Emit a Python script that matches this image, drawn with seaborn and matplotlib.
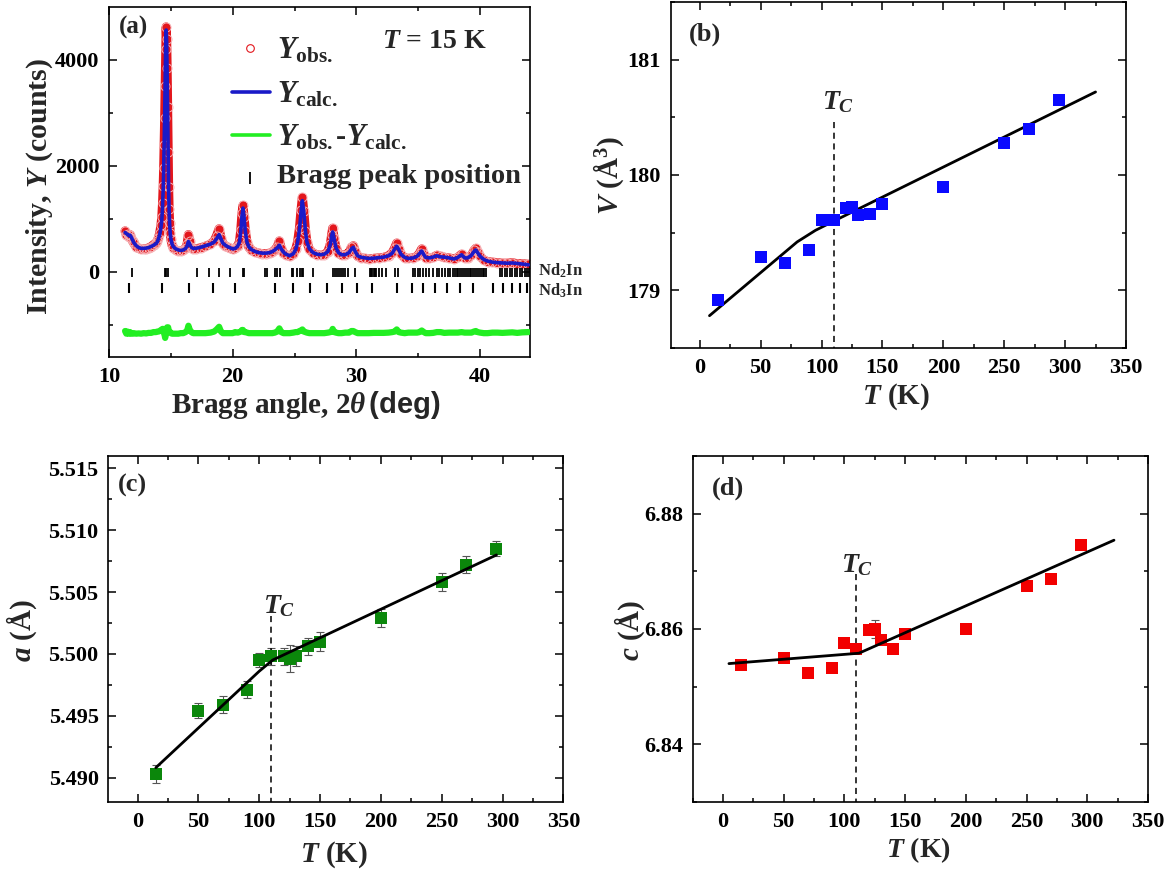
import numpy as np
import matplotlib
matplotlib.use("Agg")
import matplotlib.pyplot as plt
import seaborn as sns
from matplotlib.ticker import MultipleLocator, FormatStrFormatter

# ---------------- data: panel (a) powder pattern ----------------
two_theta = [11.3, 11.4, 11.5, 11.6, 11.7, 11.8, 11.9, 12.0, 12.2, 12.4, 12.6, 12.8, 13.0, 13.2, 13.4,
             13.6, 13.8, 13.9, 14.0, 14.1, 14.2, 14.27, 14.33, 14.38, 14.42, 14.46, 14.5, 14.54, 14.58,
             14.62, 14.66, 14.7, 14.74, 14.78, 14.82, 14.86, 14.9, 14.95, 15.0, 15.1, 15.2, 15.4, 15.6,
             15.8, 16.0, 16.2, 16.32, 16.42, 16.52, 16.65, 16.8, 17.0, 17.4, 17.8, 18.2, 18.5, 18.7,
             18.9, 19.05, 19.2, 19.4, 19.6, 19.8, 20.0, 20.2, 20.4, 20.55, 20.65, 20.75, 20.83, 20.92,
             21.02, 21.15, 21.3, 21.5, 21.8, 22.1, 22.4, 22.7, 23.0, 23.2, 23.4, 23.6, 23.77, 23.92,
             24.1, 24.3, 24.6, 24.9, 25.1, 25.25, 25.4, 25.52, 25.63, 25.75, 25.88, 26.0, 26.2, 26.5,
             26.8, 27.1, 27.4, 27.7, 27.9, 28.0, 28.08, 28.2, 28.35, 28.55, 28.8, 29.1, 29.4, 29.6,
             29.75, 29.9, 30.1, 30.4, 30.7, 31.0, 31.4, 31.8, 32.2, 32.6, 32.9, 33.1, 33.26, 33.42,
             33.6, 33.9, 34.2, 34.6, 34.9, 35.1, 35.28, 35.45, 35.6, 35.9, 36.2, 36.5, 36.8, 37.1,
             37.5, 37.9, 38.2, 38.5, 38.75, 39.0, 39.3, 39.5, 39.65, 39.8, 40.0, 40.3, 40.6, 41.0,
             41.4, 41.8, 42.2, 42.6, 43.0, 43.4, 43.9]
y_calc = [740, 720, 700, 680, 690, 650, 600, 550, 490, 455, 440, 440, 445, 455, 475,
          500, 530, 560, 620, 700, 830, 980, 1230, 1550, 1900, 2420, 2950, 3600, 4250,
          4560, 4350, 3750, 3000, 2150, 1550, 1150, 900, 720, 620, 520, 470, 430, 410,
          400, 410, 440, 490, 570, 520, 460, 440, 440, 460, 490, 520, 560, 620,
          700, 620, 540, 500, 470, 450, 430, 440, 480, 560, 760, 1050, 1200, 1020,
          760, 560, 470, 420, 380, 360, 350, 350, 360, 380, 410, 450, 500, 430,
          370, 330, 300, 340, 420, 560, 800, 1120, 1340, 1120, 760, 560, 430, 360,
          330, 320, 330, 380, 520, 680, 750, 620, 450, 360, 320, 320, 360, 430,
          460, 380, 300, 270, 260, 250, 255, 265, 275, 300, 350, 430, 480, 420,
          330, 270, 250, 260, 290, 340, 390, 320, 270, 260, 275, 300, 280, 275,
          260, 240, 270, 320, 260, 260, 310, 380, 410, 360, 290, 230, 200, 180,
          170, 165, 160, 165, 155, 145, 130]
y_obs = [770, 700, 720, 660, 700, 630, 580, 540, 470, 440, 420, 430, 430, 450, 470,
         510, 540, 580, 640, 730, 880, 1040, 1300, 1620, 1950, 2400, 2900, 3500, 4200,
         4620, 4400, 3850, 3100, 2250, 1600, 1180, 920, 730, 610, 500, 450, 410, 390,
         390, 400, 450, 530, 700, 580, 470, 430, 430, 450, 480, 520, 580, 680,
         810, 640, 530, 490, 460, 440, 420, 450, 480, 570, 780, 1100, 1250, 1030,
         770, 560, 460, 410, 370, 350, 340, 340, 350, 370, 410, 470, 580, 440,
         360, 320, 290, 340, 430, 570, 830, 1160, 1400, 1140, 770, 560, 420, 350,
         320, 310, 320, 380, 530, 700, 820, 630, 450, 350, 310, 320, 360, 460,
         490, 390, 290, 260, 250, 240, 250, 260, 270, 300, 360, 450, 540, 430,
         330, 260, 250, 260, 290, 350, 430, 330, 260, 250, 270, 310, 290, 270,
         260, 240, 270, 330, 260, 260, 310, 400, 440, 370, 290, 220, 190, 180,
         170, 160, 160, 170, 150, 150, 140]
diff_offset = -1150
nd2in_peaks = [11.83, 14.53, 14.63, 14.75, 17.09, 18.11, 18.92, 19.78, 20.82, 20.9, 22.61, 22.75,
               23.42, 23.55, 23.82, 24.77, 24.9, 25.17, 25.44, 25.57, 25.71, 26.52, 28.14, 28.3,
               28.45, 28.6, 28.75, 28.9, 29.1, 29.3, 29.9, 31.1, 31.2, 31.3, 31.4, 31.5, 31.6,
               31.8, 32.1, 32.4, 33.12, 33.36, 34.6, 34.75, 34.95, 35.15, 35.4, 35.65, 35.9, 36.2,
               36.5, 36.7, 36.9, 37.15, 37.4, 37.6, 37.8, 37.95, 38.1, 38.25, 38.4, 38.55, 38.7,
               38.85, 39.0, 39.15, 39.3, 39.45, 39.6, 39.75, 39.9, 40.05, 40.2, 40.35, 40.5, 41.6,
               41.8, 42.0, 42.2, 42.4, 42.6, 42.8, 43.0, 43.2, 43.4, 43.6, 43.8, 43.95]
nd3in_peaks = [11.64, 14.31, 16.47, 18.43, 20.19, 23.42, 24.9, 26.25, 27.6, 28.8, 30.02, 31.24,
               33.26, 34.47, 35.42, 36.36, 37.31, 38.38, 39.46, 41.08, 41.89, 42.56, 43.23, 43.77]

# ---------------- data: panels (b)-(d) ----------------
T = [15, 50, 70, 90, 100, 110, 120, 125, 130, 140, 150, 200, 250, 270, 295]
V = [178.92, 179.29, 179.24, 179.35, 179.61, 179.61, 179.71, 179.72, 179.65, 179.66, 179.75,
     179.90, 180.28, 180.40, 180.65]
a_par = [5.4903, 5.4954, 5.4959, 5.4971, 5.4995, 5.4998, 5.4998, 5.4996, 5.4998, 5.5006, 5.5010,
         5.5029, 5.5058, 5.5072, 5.5085]
a_err = [0.0007, 0.0006, 0.0007, 0.0007, 0.0006, 0.0007, 0.0007, 0.0011, 0.0008, 0.0007, 0.0008,
         0.0007, 0.0007, 0.0007, 0.0006]
c_par = [6.8538, 6.8549, 6.8523, 6.8533, 6.8576, 6.8565, 6.8599, 6.8600, 6.8581, 6.8565, 6.8591,
         6.8600, 6.8675, 6.8686, 6.8746]
c_err = [0.0004, 0.0004, 0.0004, 0.0004, 0.0004, 0.0004, 0.0004, 0.0015, 0.0004, 0.0004, 0.0004,
         0.0004, 0.0004, 0.0004, 0.0004]
T_fit_b = [8, 80, 95, 110, 325]
V_fit = [178.78, 179.42, 179.52, 179.60, 180.72]
T_fit_c = [15, 100, 111, 295]
a_fit = [5.4908, 5.4986, 5.4995, 5.5080]
T_fit_d = [5, 112, 322]
c_fit = [6.8540, 6.8558, 6.8754]
Tc = 110

assert len(two_theta) == len(y_calc) == len(y_obs)

# ---------------- style ----------------
sns.set_theme(style="ticks")
plt.rcParams.update({
    "font.family": ["Liberation Serif", "DejaVu Serif"],
    "font.weight": "bold",
    "axes.labelweight": "bold",
    "mathtext.fontset": "custom",
    "mathtext.rm": "Liberation Serif:bold",
    "mathtext.it": "Liberation Serif:italic:bold",
    "mathtext.bf": "Liberation Serif:bold",
    "mathtext.sf": "Liberation Sans:bold",
    "axes.linewidth": 1.2,
    "axes.edgecolor": "black",
})

W, H = 1172, 873
fig = plt.figure(figsize=(W / 100, H / 100), dpi=100)

TICK_FS = 16
LAB_FS = 20


def px_axes(l, t, r, b):
    return fig.add_axes([l / W, 1 - b / H, (r - l) / W, (b - t) / H])


def ftext(x, y, s, **kw):
    fig.text(x / W, 1 - y / H, s, ha=kw.pop("ha", "center"), va=kw.pop("va", "center"), **kw)


def style_ax(ax):
    ax.tick_params(which="both", direction="in", top=True, right=True, width=1.1,
                   labelsize=TICK_FS, pad=7, colors="black")
    ax.tick_params(which="major", length=6)
    ax.tick_params(which="minor", length=3)
    for s in ax.spines.values():
        s.set_visible(True)
        s.set_linewidth(1.2)
        s.set_color("black")
    ax.set_xlabel("")
    ax.set_ylabel("")


axA = px_axes(109, 7, 529.6, 357)
axB = px_axes(670.5, 2, 1126, 348)
axC = px_axes(108.4, 456, 563.4, 802.3)
axD = px_axes(692.5, 456, 1148, 802)

# ---------------- panel (a) ----------------
ax = axA
OBS_RED = "#e3161c"
sns.lineplot(x=two_theta, y=y_obs, ax=ax, estimator=None, sort=False, color=OBS_RED,
             lw=6.5, zorder=1)
sns.lineplot(x=two_theta, y=y_obs, ax=ax, estimator=None, sort=False, linestyle="",
             marker="o", markersize=6.5, markerfacecolor="none", markeredgecolor="#f7b0b4",
             markeredgewidth=0.7, zorder=2)
sns.lineplot(x=two_theta, y=y_calc, ax=ax, estimator=None, sort=False, color="#1a1ac8",
             lw=2.6, zorder=3)
y_diff = np.array(y_obs) - np.array(y_calc) + diff_offset
sns.lineplot(x=two_theta, y=y_diff, ax=ax, estimator=None, sort=False, color="#22ee22",
             lw=4.5, zorder=3)
ax.vlines(nd2in_peaks, -107, 75, color="black", lw=1.3)
ax.vlines(nd3in_peaks, -396, -207, color="black", lw=1.5)
ax.set_xlim(10, 44)
ax.set_ylim(-1610, 4995)
ax.xaxis.set_major_locator(MultipleLocator(10))
ax.xaxis.set_minor_locator(MultipleLocator(5))
ax.yaxis.set_major_locator(MultipleLocator(2000))
ax.yaxis.set_minor_locator(MultipleLocator(1000))
style_ax(ax)

# manual legend
tr = ax.transAxes
ax.plot([0.335], [0.883], transform=tr, marker="o", markersize=5.5, markerfacecolor="none",
        markeredgecolor=OBS_RED, markeredgewidth=0.8, clip_on=False)
ax.plot([0.292, 0.383], [0.757, 0.757], transform=tr, color="#1a1ac8", lw=2.6)
ax.plot([0.292, 0.383], [0.634, 0.634], transform=tr, color="#22ee22", lw=2.6)
ax.plot([0.335], [0.511], transform=tr, marker="|", markersize=8, color="black",
        markeredgewidth=1.3)
ax.text(0.40, 0.876, r"$Y_{\mathrm{obs.}}$", transform=tr, fontsize=22, va="center", ha="left")
ax.text(0.40, 0.750, r"$Y_{\mathrm{calc.}}$", transform=tr, fontsize=22, va="center", ha="left")
ax.text(0.40, 0.627, r"$Y_{\mathrm{obs.}}$-$Y_{\mathrm{calc.}}$", transform=tr, fontsize=22,
        va="center", ha="left")
ax.text(0.40, 0.515, "Bragg peak position", transform=tr, fontsize=20.5, va="center", ha="left")

ftext(134, 27, "(a)", fontsize=18)
ftext(434, 41, r"$T$ = 15 K", fontsize=20)
ftext(538, 271, r"Nd$_2$In", fontsize=12, ha="left")
ftext(538, 291, r"Nd$_3$In", fontsize=12, ha="left")
ftext(40, 186, r"Intensity, $Y$ (counts)", fontsize=21.5, rotation=90)
ftext(306, 405, r"Bragg angle, 2$\theta\,\mathsf{(deg)}$", fontsize=21)

# ---------------- panel (b) ----------------
ax = axB
sns.lineplot(x=T_fit_b, y=V_fit, ax=ax, estimator=None, sort=False, color="black", lw=2.0)
sns.scatterplot(x=T, y=V, ax=ax, marker="s", s=80, color="#0a0aff", linewidth=0, zorder=3)
ax.plot([Tc, Tc], [180.46, 178.5], color="black", lw=1.1, ls=(0, (4, 3)))
ax.set_xlim(-24, 350)
ax.set_ylim(178.5, 181.5)
ax.xaxis.set_major_locator(MultipleLocator(50))
ax.xaxis.set_minor_locator(MultipleLocator(25))
ax.yaxis.set_major_locator(MultipleLocator(1))
ax.yaxis.set_minor_locator(MultipleLocator(0.5))
ax.yaxis.set_major_formatter(FormatStrFormatter("%d"))
style_ax(ax)
ftext(705, 34, "(b)", fontsize=19)
ftext(838, 102, r"$T_C$", fontsize=20)
ftext(609, 175, r"$V$ (Å$^3$)", fontsize=LAB_FS + 1, rotation=90)
ftext(896, 397, r"$T$ (K)", fontsize=LAB_FS + 1)

# ---------------- panel (c) ----------------
ax = axC
ax.errorbar(T, a_par, yerr=a_err, fmt="none", ecolor="#555555", elinewidth=0.8, capsize=3,
            capthick=0.8, zorder=2)
sns.lineplot(x=T_fit_c, y=a_fit, ax=ax, estimator=None, sort=False, color="black", lw=2.0,
             zorder=4)
sns.scatterplot(x=T, y=a_par, ax=ax, marker="s", s=80, color="#0b870b", linewidth=0, zorder=3)
ax.plot([Tc, Tc], [5.5031, 5.488], color="black", lw=1.1, ls=(0, (4, 3)))
ax.set_xlim(-24, 350)
ax.set_ylim(5.488, 5.516)
ax.xaxis.set_major_locator(MultipleLocator(50))
ax.xaxis.set_minor_locator(MultipleLocator(25))
ax.yaxis.set_major_locator(MultipleLocator(0.005))
ax.yaxis.set_minor_locator(MultipleLocator(0.0025))
ax.yaxis.set_major_formatter(FormatStrFormatter("%.3f"))
style_ax(ax)
ftext(132, 485, "(c)", fontsize=19)
ftext(279, 606, r"$T_C$", fontsize=20)
ftext(22, 630, r"$a$ (Å)", fontsize=LAB_FS + 1, rotation=90)
ftext(334, 855, r"$T$ (K)", fontsize=LAB_FS + 1)

# ---------------- panel (d) ----------------
ax = axD
ax.errorbar(T, c_par, yerr=c_err, fmt="none", ecolor="#555555", elinewidth=0.8, capsize=3,
            capthick=0.8, zorder=2)
sns.lineplot(x=T_fit_d, y=c_fit, ax=ax, estimator=None, sort=False, color="black", lw=2.0,
             zorder=4)
sns.scatterplot(x=T, y=c_par, ax=ax, marker="s", s=80, color="#f20000", linewidth=0, zorder=3)
ax.plot([Tc, Tc], [6.8696, 6.83], color="black", lw=1.1, ls=(0, (4, 3)))
ax.set_xlim(-25, 350)
ax.set_ylim(6.83, 6.89)
ax.xaxis.set_major_locator(MultipleLocator(50))
ax.xaxis.set_minor_locator(MultipleLocator(25))
ax.yaxis.set_major_locator(MultipleLocator(0.02))
ax.yaxis.set_minor_locator(MultipleLocator(0.01))
ax.yaxis.set_major_formatter(FormatStrFormatter("%.2f"))
style_ax(ax)
ftext(728, 488, "(d)", fontsize=19)
ftext(857, 565, r"$T_C$", fontsize=20)
ftext(630, 630, r"$c$ (Å)", fontsize=LAB_FS + 1, rotation=90)
ftext(918, 850, r"$T$ (K)", fontsize=LAB_FS)

fig.savefig("out.png", dpi=100)
